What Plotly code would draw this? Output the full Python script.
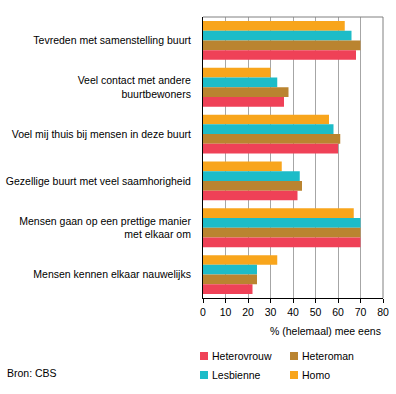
import plotly.graph_objects as go

categories = [
    "Tevreden met samenstelling buurt",
    "Veel contact met andere<br>buurtbewoners",
    "Voel mij thuis bij mensen in deze buurt",
    "Gezellige buurt met veel saamhorigheid",
    "Mensen gaan op een prettige manier<br>met elkaar om",
    "Mensen kennen elkaar nauwelijks",
]
heterovrouw = [68, 36, 60, 42, 70, 22]
heteroman = [70, 38, 61, 44, 70, 24]
lesbienne = [66, 33, 58, 43, 70, 24]
homo = [63, 30, 56, 35, 67, 33]
x_ticks = [0, 10, 20, 30, 40, 50, 60, 70, 80]

FONT = "Liberation Sans"
FS = 10.5

# (name, values, colour)  -- legend order: Heterovrouw, Heteroman, Lesbienne, Homo
series = [
    ("Heterovrouw", heterovrouw, "#EF4157"),
    ("Heteroman", heteroman, "#BA8430"),
    ("Lesbienne", lesbienne, "#1DBCC8"),
    ("Homo", homo, "#F8A51C"),
]
# bars from top to bottom within each group: Homo, Lesbienne, Heteroman, Heterovrouw
bar_order = [3, 2, 1, 0]

fig = go.Figure()
for i in bar_order:
    name, vals, color = series[i]
    fig.add_trace(go.Bar(
        y=categories, x=vals, name=name, orientation="h",
        marker=dict(color=color, line=dict(width=0)),
        showlegend=False,
    ))

# manual legend (2 x 2 grid), positioned in paper coordinates
leg_cols = [(-0.0167, 0.0278, 0.0389), (0.4833, 0.5278, 0.5389)]
leg_rows = [(-0.1922, -0.2206, -0.2064), (-0.2598, -0.2883, -0.2740)]
shapes = [
    dict(type="line", xref="x domain", yref="y domain", x0=0, x1=1, y0=1, y1=1,
         line=dict(color="#808080", width=1)),
    dict(type="line", xref="x domain", yref="y domain", x0=1, x1=1, y0=0, y1=1,
         line=dict(color="#808080", width=1)),
]
annotations = [
    dict(text="% (helemaal) mee eens", xref="paper", yref="paper", x=1, y=-0.1174,
         xanchor="right", yanchor="middle", showarrow=False,
         font=dict(family=FONT, size=FS, color="black")),
    dict(text="Bron: CBS", xref="paper", yref="paper", x=-1.1, y=-0.268,
         xanchor="left", yanchor="middle", showarrow=False,
         font=dict(family=FONT, size=FS, color="black")),
]
for k, (name, _, color) in enumerate(series):
    r, c = divmod(k, 2)
    x0, x1, xt = leg_cols[c]
    y0, y1, yt = leg_rows[r]
    shapes.append(dict(type="rect", xref="paper", yref="paper", x0=x0, x1=x1,
                       y0=y1, y1=y0, fillcolor=color, line=dict(width=0)))
    annotations.append(dict(text=name, xref="paper", yref="paper", x=xt, y=yt,
                            xanchor="left", yanchor="middle", showarrow=False,
                            font=dict(family=FONT, size=FS, color="black")))

fig.update_layout(
    width=396, height=394,
    margin=dict(l=203, r=13, t=17, b=96, autoexpand=False),
    paper_bgcolor="white", plot_bgcolor="white",
    barmode="group", bargap=0.17, bargroupgap=0,
    font=dict(family=FONT, size=FS, color="black"),
    showlegend=False,
    xaxis=dict(
        range=[0, 80], tickvals=x_ticks, showgrid=True, gridcolor="#A6A6A6",
        gridwidth=1, showline=True, linecolor="black", linewidth=1,
        ticks="outside", ticklen=4, tickcolor="black", zeroline=False,
        tickfont=dict(family=FONT, size=FS, color="black"),
        fixedrange=True,
    ),
    yaxis=dict(
        autorange="reversed", showline=True, linecolor="black", linewidth=1,
        showgrid=False, ticks="", ticklabelstandoff=9,
        tickfont=dict(family=FONT, size=FS, color="black"),
    ),
    shapes=shapes,
    annotations=annotations,
)

fig.write_html(
    "out.html",
    config={"displayModeBar": False},
    post_script="document.body.style.margin='0';document.body.style.overflow='hidden';",
)
